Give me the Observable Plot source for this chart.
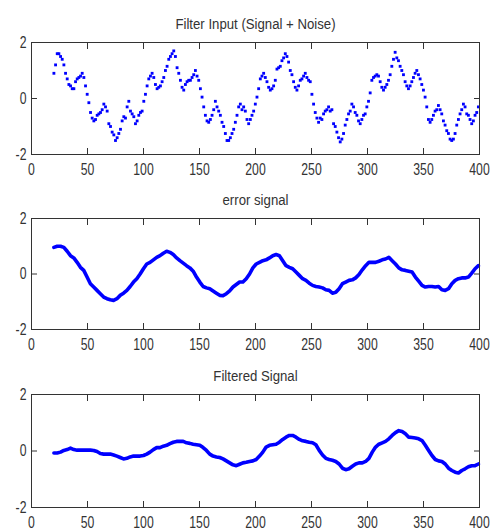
<!DOCTYPE html>
<html>
<head>
<meta charset="utf-8">
<script src="https://cdn.jsdelivr.net/npm/d3@7"></script>
<script src="https://cdn.jsdelivr.net/npm/@observablehq/plot@0.6"></script>
<style>
  html, body { margin: 0; padding: 0; background: #fff; }
  #chart { position: relative; width: 492px; height: 531px; background: #fff; overflow: hidden; }
  #chart > svg { position: absolute; left: 0; }
</style>
</head>
<body>
<div id="chart"></div>
<script>
// ---- data ----
const titles = ["Filter Input (Signal + Noise)", "error signal", "Filtered Signal"];
const xTicks = [0, 50, 100, 150, 200, 250, 300, 350, 400];
const yTicks = [-2, 0, 2];
const xStart = 20;
const xEnd = 399;

// Filter input (dotted, noisy)
const inputValues = [
  0.9, 1.2, 1.6, 1.6, 1.5, 1.4, 1.2, 0.9, 0.7, 0.5,
  0.45, 0.35, 0.35, 0.6, 0.7, 0.75, 0.8, 0.9, 0.75, 0.45,
  0.15, -0.15, -0.5, -0.7, -0.8, -0.75, -0.6, -0.55, -0.5, -0.4,
  -0.2, -0.3, -0.45, -0.9, -1.0, -1.2, -1.3, -1.5, -1.4, -1.25,
  -1.1, -0.8, -0.65, -0.7, -0.3, -0.1, -0.45, -0.55, -0.65, -0.9,
  -0.8, -0.6, -0.5, -0.45, -0.1, 0.15, 0.45, 0.7, 0.8, 0.9,
  0.75, 0.5, 0.35, 0.4, 0.45, 0.6, 0.75, 1.0, 1.15, 1.4,
  1.5, 1.6, 1.7, 1.5, 1.1, 0.9, 0.65, 0.4, 0.3, 0.5,
  0.6, 0.65, 0.65, 0.75, 0.85, 1.0, 0.8, 0.65, 0.35, 0.05,
  -0.3, -0.6, -0.8, -0.85, -0.75, -0.6, -0.4, -0.1, -0.3, -0.45,
  -0.6, -0.85, -1.0, -1.25, -1.5, -1.5, -1.4, -1.25, -1.1, -0.85,
  -0.6, -0.3, -0.2, -0.4, -0.3, -0.45, -0.75, -0.9, -0.75, -0.6,
  -0.45, -0.2, 0.05, 0.35, 0.7, 0.8, 0.9, 0.75, 0.6, 0.4,
  0.3, 0.35, 0.45, 0.65, 1.05, 1.1, 1.15, 1.35, 1.45, 1.6,
  1.5, 1.3, 1.0, 0.85, 0.6, 0.4, 0.3, 0.45, 0.65, 0.7,
  0.8, 0.9, 0.75, 0.65, 0.6, 0.15, -0.2, -0.5, -0.7, -0.85,
  -0.7, -0.75, -0.55, -0.45, -0.4, -0.3, -0.45, -0.4, -0.9, -1.0,
  -1.2, -1.4, -1.55, -1.45, -1.25, -0.95, -0.75, -0.55, -0.45, -0.2,
  -0.3, -0.5, -0.6, -0.8, -0.9, -0.75, -0.6, -0.55, -0.3, -0.1,
  0.2, 0.65, 0.75, 0.8, 0.85, 0.8, 0.6, 0.4, 0.3, 0.4,
  0.5, 0.65, 0.85, 1.15, 1.4, 1.65, 1.45, 1.35, 1.15, 1.0,
  0.85, 0.6, 0.45, 0.35, 0.45, 0.6, 0.75, 0.9, 1.0, 0.85,
  0.7, 0.5, 0.3, 0.05, -0.3, -0.75, -0.85, -0.75, -0.6, -0.45,
  -0.4, -0.25, -0.4, -0.55, -0.8, -0.95, -1.15, -1.25, -1.45, -1.5,
  -1.45, -1.25, -0.95, -0.75, -0.55, -0.4, -0.2, -0.3, -0.55, -0.6,
  -0.75, -0.9, -0.8, -0.6, -0.5, -0.3
];

// Error signal (thick line)
const errorValues = [
  0.96, 1.0, 1.0, 0.96, 0.82, 0.66, 0.58, 0.42, 0.24, 0.13,
  -0.11, -0.35, -0.47, -0.59, -0.71, -0.83, -0.89, -0.93, -0.95, -0.89,
  -0.77, -0.69, -0.59, -0.45, -0.29, -0.17, 0.0, 0.19, 0.36, 0.42,
  0.51, 0.6, 0.66, 0.75, 0.82, 0.78, 0.7, 0.58, 0.48, 0.39,
  0.3, 0.22, 0.1, -0.11, -0.29, -0.45, -0.5, -0.53, -0.61, -0.69,
  -0.77, -0.78, -0.71, -0.61, -0.47, -0.38, -0.29, -0.29, -0.17, 0.0,
  0.22, 0.36, 0.42, 0.48, 0.51, 0.58, 0.66, 0.7, 0.66, 0.48,
  0.3, 0.24, 0.19, 0.07, -0.05, -0.17, -0.23, -0.33, -0.41, -0.45,
  -0.47, -0.5, -0.57, -0.59, -0.69, -0.66, -0.53, -0.35, -0.29, -0.23,
  -0.21, -0.14, -0.02, 0.15, 0.3, 0.42, 0.42, 0.42, 0.46, 0.51,
  0.54, 0.6, 0.48, 0.36, 0.22, 0.15, 0.13, 0.1, 0.07, -0.11,
  -0.26, -0.41, -0.47, -0.45, -0.45, -0.47, -0.45, -0.57, -0.59, -0.53,
  -0.35, -0.23, -0.17, -0.14, -0.14, -0.11, 0.03, 0.19,
  0.3
];

// Filtered signal (thick line)
const filteredValues = [
  -0.07, -0.07, -0.04, 0.02, 0.05, 0.1, 0.05, 0.03, 0.03, 0.03,
  0.03, 0.03, 0.02, -0.02, -0.09, -0.11, -0.11, -0.11, -0.14, -0.18,
  -0.23, -0.28, -0.26, -0.21, -0.18, -0.18, -0.18, -0.16, -0.11, -0.04,
  0.05, 0.12, 0.12, 0.17, 0.2, 0.26, 0.31, 0.34, 0.34, 0.34,
  0.29, 0.27, 0.24, 0.22, 0.2, 0.12, 0.02, -0.11, -0.18, -0.21,
  -0.23, -0.28, -0.35, -0.42, -0.49, -0.52, -0.47, -0.42, -0.4, -0.37,
  -0.35, -0.3, -0.18, -0.04, 0.14, 0.2, 0.22, 0.24, 0.31, 0.41,
  0.49, 0.55, 0.55, 0.49, 0.41, 0.36, 0.34, 0.31, 0.29, 0.22,
  0.02, -0.14, -0.26, -0.3, -0.33, -0.37, -0.46, -0.61, -0.66, -0.63,
  -0.54, -0.46, -0.42, -0.42, -0.37, -0.26, -0.04, 0.14, 0.24, 0.29,
  0.34, 0.43, 0.55, 0.65, 0.72, 0.69, 0.61, 0.49, 0.48, 0.46,
  0.43, 0.37, 0.2, 0.02, -0.16, -0.3, -0.35, -0.37, -0.46, -0.61,
  -0.69, -0.75, -0.78, -0.69, -0.63, -0.56, -0.52, -0.52,
  -0.46
];

// ---- build tables (even sample grid) ----
const toRows = vals => vals.map((y, i) => ({x: xStart + i * (xEnd - xStart) / (vals.length - 1), y}));
const inputRows = toRows(inputValues);
const errorRows = toRows(errorValues);
const filteredRows = toRows(filteredValues);

const BLUE = "#0000ff";
const INK = "#333333";
const FONT = "'Liberation Sans', Arial, Helvetica, sans-serif";
const fmt = d => String(d);

// narrow the glyphs horizontally, like the reference's condensed font
function condense(svg) {
  for (const t of svg.querySelectorAll("text")) {
    const tr = t.getAttribute("transform");
    if (!tr) continue;
    const isTick = !!t.closest("[aria-label*='tick label']");
    const s = isTick ? 0.72 : 0.88;
    t.setAttribute("transform", `${tr} scale(${s},1)`);
  }
}

function panel({title, top, height, marginTop, marginBottom, marks}) {
  const svg = Plot.plot({
    width: 492,
    height,
    marginLeft: 31,
    marginRight: 13,
    marginTop,
    marginBottom,
    x: {domain: [0, 400], label: null},
    y: {domain: [-2, 2], label: null},
    style: {fontFamily: FONT, fontSize: "15px", color: INK, background: "transparent", overflow: "visible"},
    marks: [
      ...marks,
      Plot.axisX({anchor: "bottom", ticks: xTicks, tickSize: -6, tickPadding: 14, tickFormat: fmt, fontSize: 17, stroke: INK, fill: INK}),
      Plot.axisX({anchor: "top", ticks: xTicks, tickSize: -6, tickFormat: () => "", stroke: INK}),
      Plot.axisY({anchor: "left", ticks: yTicks, tickSize: -6, tickPadding: 11, tickFormat: fmt, fontSize: 17, stroke: INK, fill: INK}),
      Plot.axisY({anchor: "right", ticks: yTicks, tickSize: -6, tickFormat: () => "", stroke: INK}),
      Plot.frame({stroke: INK, strokeWidth: 1}),
      Plot.text([title], {frameAnchor: "top", dy: -24, fontSize: 15, fill: INK})
    ]
  });
  condense(svg);
  svg.style.top = top + "px";
  return svg;
}

const chart = document.getElementById("chart");
chart.appendChild(panel({
  title: titles[0], top: 0, height: 180, marginTop: 42, marginBottom: 26,
  marks: [Plot.dot(inputRows, {x: "x", y: "y", r: 1.6, symbol: "square", fill: BLUE, stroke: "none"})]
}));
chart.appendChild(panel({
  title: titles[1], top: 180, height: 175, marginTop: 38, marginBottom: 26,
  marks: [Plot.line(errorRows, {x: "x", y: "y", stroke: BLUE, strokeWidth: 3.6})]
}));
chart.appendChild(panel({
  title: titles[2], top: 355, height: 176, marginTop: 39, marginBottom: 24,
  marks: [Plot.line(filteredRows, {x: "x", y: "y", stroke: BLUE, strokeWidth: 3.6})]
}));
</script>
</body>
</html>
